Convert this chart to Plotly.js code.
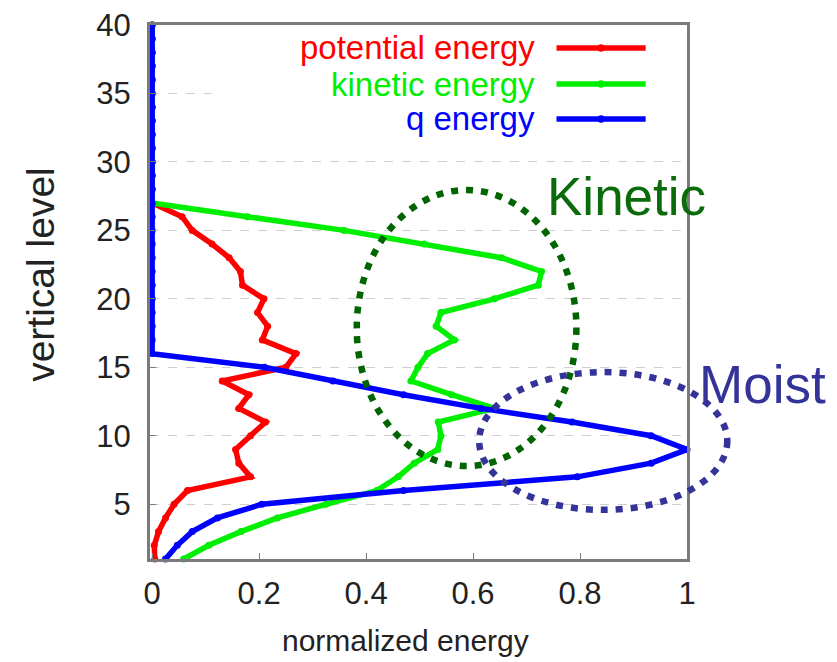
<!DOCTYPE html>
<html>
<head>
<meta charset="utf-8">
<script src="https://cdn.plot.ly/plotly-3.0.1.min.js"></script>
<style>
  html, body { margin: 0; padding: 0; background: #ffffff; }
  #chart { width: 837px; height: 662px; }
</style>
</head>
<body>
<div id="chart"></div>
<script>
// vertical levels 1..40
var levels = [1,2,3,4,5,6,7,8,9,10,11,12,13,14,15,16,17,18,19,20,
              21,22,23,24,25,26,27,28,29,30,31,32,33,34,35,36,37,38,39,40];

var potentialEnergy = [0.005,0.004,0.012,0.025,0.041,0.066,0.184,0.162,0.156,0.184,
                       0.212,0.162,0.181,0.131,0.25,0.269,0.206,0.216,0.197,0.209,
                       0.169,0.165,0.144,0.112,0.075,0.056,0,0,0,0,
                       0,0,0,0,0,0,0,0,0,0];

var kineticEnergy = [0.059,0.106,0.166,0.234,0.325,0.42,0.46,0.49,0.534,0.54,
                     0.535,0.64,0.56,0.484,0.497,0.515,0.565,0.531,0.54,0.64,
                     0.722,0.728,0.653,0.509,0.359,0.178,0,0,0,0,
                     0,0,0,0,0,0,0,0,0,0];

var qEnergy = [0.025,0.047,0.075,0.122,0.205,0.47,0.795,0.933,1.0,0.933,
               0.785,0.615,0.47,0.338,0.21,0,0,0,0,0,
               0,0,0,0,0,0,0,0,0,0,
               0,0,0,0,0,0,0,0,0,0];

var seriesNames = ['potential energy', 'kinetic energy', 'q energy'];
var seriesColors = ['#ff0000', '#00ee00', '#0000ff'];
var xTicks = [0, 0.2, 0.4, 0.6, 0.8, 1];
var yTicks = [5, 10, 15, 20, 25, 30, 35, 40];
var xTitle = 'normalized energy';
var yTitle = 'vertical level';

var FONT = '"Liberation Sans", Arial, Helvetica, sans-serif';
var seriesValues = [potentialEnergy, kineticEnergy, qEnergy];

var traces = seriesValues.map(function (vals, i) {
  return {
    type: 'scatter',
    mode: 'lines+markers',
    name: seriesNames[i],
    x: vals,
    y: levels,
    line: { color: seriesColors[i], width: 5.5 },
    marker: { color: seriesColors[i], size: 7 },
    cliponaxis: false,
    showlegend: false
  };
});

// custom gnuplot-style key (text right-aligned, sample on the right)
var keyY = [0.957, 0.8895, 0.824];
var annotations = seriesNames.map(function (n, i) {
  return {
    xref: 'paper', yref: 'paper', x: 0.72, y: keyY[i],
    xanchor: 'right', yanchor: 'middle', showarrow: false,
    text: n, font: { family: FONT, size: 33, color: seriesColors[i] }
  };
});
annotations.push({
  xref: 'paper', yref: 'paper', x: 0.736, y: 0.678, xanchor: 'left', yanchor: 'middle',
  showarrow: false, text: 'Kinetic', font: { family: FONT, size: 53, color: '#0b6b0b' }
});
annotations.push({
  xref: 'paper', yref: 'paper', x: 1.018, y: 0.326, xanchor: 'left', yanchor: 'middle',
  showarrow: false, text: 'Moist', font: { family: FONT, size: 53, color: '#333399' }
});
// axis titles (placed as in the original figure)
annotations.push({
  xref: 'paper', yref: 'paper', x: 0.475, y: -0.152, xanchor: 'center', yanchor: 'middle',
  showarrow: false, text: xTitle, font: { family: FONT, size: 30, color: '#222222' }
});
annotations.push({
  xref: 'paper', yref: 'paper', x: -0.203, y: 0.534, xanchor: 'center', yanchor: 'middle',
  textangle: -90, showarrow: false, text: yTitle, font: { family: FONT, size: 39, color: '#222222' }
});

var shapes = [
  // key background box (hides grid lines behind the key)
  { type: 'rect', xref: 'paper', yref: 'paper', x0: 0.115, x1: 0.995, y0: 0.80, y1: 0.994,
    fillcolor: '#ffffff', line: { width: 0 }, layer: 'above' }
];
keyY.forEach(function (yy, i) {
  shapes.push({ type: 'line', xref: 'paper', yref: 'paper', x0: 0.757, x1: 0.923, y0: yy, y1: yy,
    line: { color: seriesColors[i], width: 5.5 } });
  shapes.push({ type: 'circle', xref: 'paper', yref: 'paper', x0: 0.833, x1: 0.847,
    y0: yy - 0.007, y1: yy + 0.007, fillcolor: seriesColors[i], line: { width: 0 } });
});
// dotted highlight ellipses
shapes.push({ type: 'circle', xref: 'paper', yref: 'paper', x0: 0.385, x1: 0.794, y0: 0.174, y1: 0.691,
  line: { color: '#006400', width: 6.5, dash: '7px,8px' } });
shapes.push({ type: 'circle', xref: 'paper', yref: 'paper', x0: 0.613, x1: 1.075, y0: 0.092, y1: 0.350,
  line: { color: '#333399', width: 6.5, dash: '7px,8px' } });

var layout = {
  width: 837, height: 662,
  margin: { l: 150, r: 150, t: 25, b: 103 },
  paper_bgcolor: '#ffffff', plot_bgcolor: 'rgba(0,0,0,0)',
  font: { family: FONT, size: 30, color: '#222222' },
  showlegend: false,
  xaxis: {
    range: [-0.004, 1], tickvals: xTicks, ticktext: xTicks.map(String),
    showgrid: false, zeroline: false,
    showline: true, mirror: true, linecolor: '#7a7a7a', linewidth: 3,
    ticks: 'inside', ticklen: 6, tickcolor: '#7a7a7a', tickwidth: 1,
    ticklabelstandoff: 5,
    tickfont: { family: FONT, size: 31, color: '#222222' }
  },
  yaxis: {
    range: [1, 40], tickvals: yTicks,
    showgrid: true, gridcolor: '#cfcfcf', gridwidth: 1, griddash: 'dash',
    zeroline: false,
    showline: true, mirror: true, linecolor: '#7a7a7a', linewidth: 3,
    ticks: 'inside', ticklen: 6, tickcolor: '#7a7a7a', tickwidth: 1,
    ticklabelstandoff: 10,
    tickfont: { family: FONT, size: 31, color: '#222222' }
  },
  annotations: annotations,
  shapes: shapes
};

Plotly.newPlot('chart', traces, layout, { displayModeBar: false, staticPlot: true });
</script>
</body>
</html>
